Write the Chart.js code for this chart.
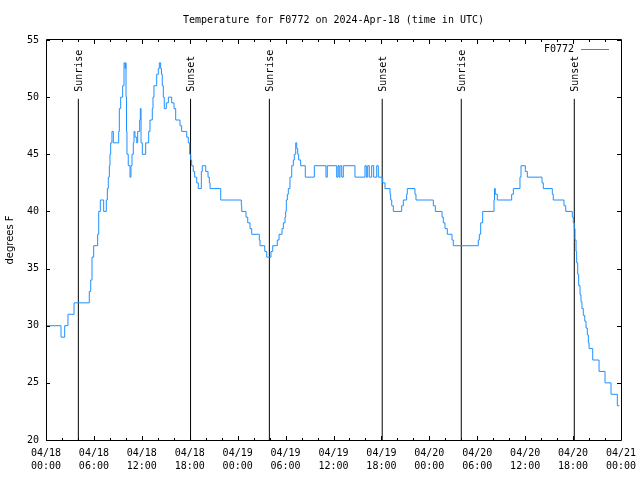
<!DOCTYPE html>
<html>
<head>
<meta charset="utf-8">
<script src="https://cdn.jsdelivr.net/npm/chart.js@4/dist/chart.umd.min.js"></script>
<style>
  html, body { margin: 0; padding: 0; background: #fff; }
  canvas { display: block; }
</style>
</head>
<body>
<canvas id="chart" width="640" height="480"></canvas>
<script>
// hours since 04/18 00:00 UTC where the reading changes, and the new reading (F)
var hours = [0, 1.88, 2.34, 2.75, 3.51, 5.42, 5.6, 5.76, 5.97, 6.47, 6.6, 6.8, 7.22, 7.55, 7.68, 7.8, 7.93, 8.01, 8.1, 8.26,
  8.43, 9.1, 9.18, 9.35, 9.6, 9.77, 9.9, 9.98, 10.02, 10.08, 10.14, 10.3, 10.52, 10.64, 10.77, 10.93, 11.02, 11.14, 11.36, 11.48,
  11.73, 11.81, 11.9, 12.06, 12.48, 12.86, 13.02, 13.31, 13.4, 13.52, 13.86, 14.06, 14.19, 14.36, 14.46, 14.56, 14.69, 14.81, 15.06, 15.32,
  15.74, 16.03, 16.24, 16.78, 16.99, 17.62, 17.82, 17.99, 18.12, 18.24, 18.44, 18.62, 18.87, 19.07, 19.45, 19.57, 20.0, 20.29, 20.45, 20.54,
  21.88, 24.46, 24.51, 25.04, 25.26, 25.55, 25.76, 26.71, 26.8, 27.39, 27.64, 28.17, 28.39, 28.96, 29.18, 29.55, 29.72, 29.93, 30.01, 30.09,
  30.22, 30.34, 30.55, 30.77, 30.97, 31.09, 31.27, 31.4, 31.52, 31.64, 31.89, 32.47, 33.6, 35.06, 35.22, 36.4, 36.56, 36.69, 36.81, 37.03,
  37.23, 38.69, 39.94, 40.11, 40.28, 40.48, 40.78, 41.03, 41.41, 41.61, 42.16, 42.45, 43.08, 43.16, 43.29, 43.49, 44.54, 44.74, 45.16, 45.24,
  46.2, 46.33, 48.5, 48.75, 49.59, 49.75, 49.96, 50.25, 50.84, 51.0, 54.13, 54.26, 54.43, 54.68, 56.1, 56.16, 56.26, 56.51, 58.31, 58.52,
  59.35, 59.48, 60.02, 60.27, 62.11, 62.27, 63.4, 63.52, 64.86, 65.08, 65.9, 66.03, 66.15, 66.24, 66.37, 66.45, 66.58, 66.7, 66.87, 66.99,
  67.11, 67.28, 67.46, 67.62, 67.78, 67.91, 68.0, 68.46, 69.25, 70.0, 70.75, 71.54, 71.79];
var temps = [30, 29, 30, 31, 32, 33, 34, 36, 37, 38, 40, 41, 40, 41, 42, 43, 44, 45, 46, 47,
  46, 47, 49, 50, 51, 53, 52.5, 53, 50, 47, 45, 44, 43, 44, 45, 46, 47, 46.5, 46, 47,
  48, 49, 46, 45, 46, 47, 48, 49, 50, 51, 52, 52.5, 53, 52.5, 52, 51, 50, 49, 49.5, 50,
  49.5, 49, 48, 47.5, 47, 46.5, 46, 45, 44.5, 44, 43.5, 43, 42.5, 42, 43.5, 44, 43.5, 43, 42.5, 42,
  41, 40.5, 40, 39.5, 39, 38.5, 38, 37.5, 37, 36.5, 36, 36.5, 37, 37.5, 38, 38.5, 39, 39.5, 40, 41,
  41.5, 42, 43, 44, 44.5, 45, 46, 45.5, 45, 44.5, 44, 43, 44, 43, 44, 43, 44, 43, 44, 43,
  44, 43, 44, 43, 44, 43, 44, 43, 44, 43, 42.5, 42, 41.5, 41, 40.5, 40, 40.5, 41, 41.5, 42,
  41.5, 41, 40.5, 40, 39.5, 39, 38.5, 38, 37.5, 37, 37.5, 38, 39, 40, 41, 42, 41.5, 41, 41.5, 42,
  43, 44, 43.5, 43, 42.5, 42, 41.5, 41, 40.5, 40, 39.5, 39, 38.5, 37.5, 36.5, 35.5, 34.5, 33.5, 32.7, 32.1,
  31.5, 30.9, 30.4, 29.8, 29.2, 28.5, 28, 27, 26, 25, 24, 23, 23];

var sunTimes = [4.05, 18.1, 27.97, 42.1, 52.0, 66.15];
var sunLabels = ['Sunrise', 'Sunset', 'Sunrise', 'Sunset', 'Sunrise', 'Sunset'];
var sunTop = 49.85;

var tickDates = ['04/18', '04/18', '04/18', '04/18', '04/19', '04/19', '04/19', '04/19', '04/20', '04/20', '04/20', '04/20', '04/21'];
var tickTimes = ['00:00', '06:00', '12:00', '18:00', '00:00', '06:00', '12:00', '18:00', '00:00', '06:00', '12:00', '18:00', '00:00'];

var lineColor = '#1e90ff';
var mono = '"DejaVu Sans Mono", monospace';

var datasets = [{
  label: 'F0772',
  data: hours.map(function(h, i) { return { x: h, y: temps[i] }; }),
  borderColor: lineColor,
  borderWidth: 1,
  pointRadius: 0,
  stepped: 'before',
  order: 0
}];
sunTimes.forEach(function(t, i) {
  datasets.push({
    label: sunLabels[i],
    data: [{ x: t, y: 20 }, { x: t, y: sunTop }],
    borderColor: '#000',
    borderWidth: 1,
    pointRadius: 0,
    order: 1
  });
});

// gnuplot-like frame: inward ticks, border, sun labels, key
var framePlugin = {
  id: 'frame',
  afterDatasetsDraw: function(chart) {
    var ctx = chart.ctx, a = chart.chartArea, x = chart.scales.x, y = chart.scales.y;
    ctx.save();
    ctx.strokeStyle = '#000';
    ctx.lineWidth = 1;
    ctx.beginPath();
    ctx.rect(Math.round(a.left) + 0.5, Math.round(a.top) - 0.5, Math.round(a.right - a.left), Math.round(a.bottom - a.top) + 1);
    for (var h = 0; h <= 72; h += 2) {
      var px = Math.round(x.getPixelForValue(h)) + 0.5;
      var len = h % 6 === 0 ? 4 : 2;
      ctx.moveTo(px, a.bottom); ctx.lineTo(px, a.bottom - len);
      ctx.moveTo(px, a.top); ctx.lineTo(px, a.top + len);
    }
    for (var v = 20; v <= 55; v += 5) {
      var py = Math.round(y.getPixelForValue(v)) + 0.5;
      ctx.moveTo(a.left, py); ctx.lineTo(a.left + 4, py);
      ctx.moveTo(a.right, py); ctx.lineTo(a.right - 4, py);
    }
    ctx.stroke();

    ctx.fillStyle = '#000';
    ctx.font = '10px ' + mono;
    sunTimes.forEach(function(t, i) {
      ctx.save();
      ctx.translate(x.getPixelForValue(t) + 1, y.getPixelForValue(sunTop) - 7);
      ctx.rotate(-Math.PI / 2);
      ctx.textAlign = 'left';
      ctx.textBaseline = 'middle';
      ctx.fillText(sunLabels[i], 0, 0);
      ctx.restore();
    });

    ctx.textAlign = 'right';
    ctx.textBaseline = 'middle';
    ctx.fillText('F0772', 574, 49);
    ctx.strokeStyle = lineColor;
    ctx.beginPath();
    ctx.moveTo(581, 49.5); ctx.lineTo(609, 49.5);
    ctx.stroke();
    ctx.restore();
  }
};

new Chart(document.getElementById('chart'), {
  type: 'line',
  data: { datasets: datasets },
  plugins: [framePlugin],
  options: {
    responsive: false,
    animation: false,
    devicePixelRatio: 1,
    layout: { padding: { left: 0, right: 19, top: 0, bottom: 0 } },
    plugins: {
      legend: { display: false },
      tooltip: { enabled: false },
      title: {
        display: true,
        fullSize: false,
        text: 'Temperature for F0772 on 2024-Apr-18 (time in UTC)',
        color: '#000',
        font: { family: mono, size: 10, weight: 'normal' },
        padding: { top: 14, bottom: 14 }
      }
    },
    scales: {
      x: {
        type: 'linear',
        min: 0,
        max: 72,
        afterFit: function(s) { s.height = 40; s.paddingLeft = 0; s.paddingRight = 0; },
        ticks: {
          stepSize: 6,
          autoSkip: false,
          maxRotation: 0,
          padding: 7,
          color: '#000',
          font: { family: mono, size: 10, lineHeight: 1.3 },
          callback: function(v) {
            var i = Math.round(v / 6);
            return [tickDates[i], tickTimes[i]];
          }
        },
        grid: { display: false, drawTicks: false },
        border: { display: false }
      },
      y: {
        min: 20,
        max: 55,
        afterFit: function(s) { s.width = 46; s.paddingTop = 0; s.paddingBottom = 0; },
        ticks: {
          stepSize: 5,
          padding: 7,
          color: '#000',
          font: { family: mono, size: 10 }
        },
        title: {
          display: true,
          text: 'degrees F',
          color: '#000',
          font: { family: '"DejaVu Sans", sans-serif', size: 10 },
          padding: { top: 4, bottom: 0 }
        },
        grid: { display: false, drawTicks: false },
        border: { display: false }
      }
    }
  }
});
</script>
</body>
</html>
